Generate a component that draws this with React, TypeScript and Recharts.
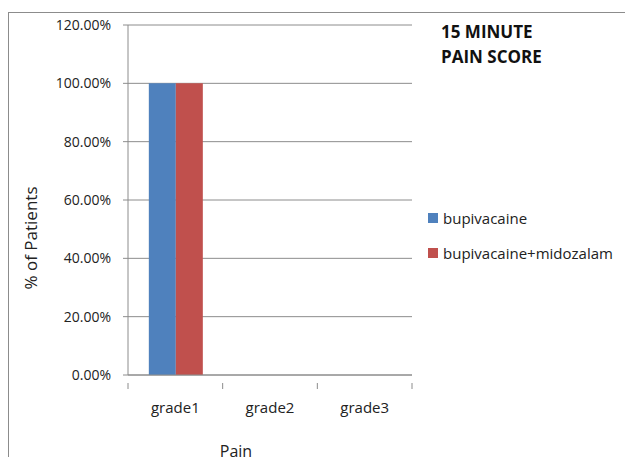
import React from 'react';
import { BarChart, Bar, XAxis, YAxis, CartesianGrid } from 'recharts';

const CATEGORIES = ['grade1', 'grade2', 'grade3'];
const BUPIVACAINE = [1, 0, 0];
const BUPI_MIDOZALAM = [1, 0, 0];
const Y_TICKS = [0, 0.2, 0.4, 0.6, 0.8, 1.0, 1.2];
const SERIES = [
  { key: 'bupivacaine', name: 'bupivacaine', color: '#4F81BD', values: BUPIVACAINE },
  { key: 'bupiMid', name: 'bupivacaine+midozalam', color: '#C0504D', values: BUPI_MIDOZALAM },
];

const data = CATEGORIES.map((c, i) => ({
  name: c,
  bupivacaine: BUPIVACAINE[i],
  bupiMid: BUPI_MIDOZALAM[i],
}));

const FONT = '"Open Sans", "Noto Sans", sans-serif';
const AXIS = '#8c8c8c';

const fmt = (v: number) => `${(v * 100).toFixed(2)}%`;

// Excel-style: tick marks sit between categories, labels at the centre
const CategoryTick = (props: any) => {
  const { x, y, payload, index } = props;
  const half = payload && payload.offset ? payload.offset : 0;
  const last = index === CATEGORIES.length - 1;
  return (
    <g>
      <line x1={x - half} x2={x - half} y1={y} y2={y + 6} stroke={AXIS} />
      {last && <line x1={x + half} x2={x + half} y1={y} y2={y + 6} stroke={AXIS} />}
      <text x={x} y={y + 30} textAnchor="middle" fontSize={15} fontFamily={FONT} fill="#222">
        {payload.value}
      </text>
    </g>
  );
};

const App: React.FC = () => {
  return (
    <div style={{ position: 'absolute', left: 0, top: 0, width: 625, height: 457, overflow: 'hidden', background: '#fff' }}>
      <div style={{ position: 'absolute', left: 8, top: 12, width: 700, height: 600, border: '1px solid #8c8c8c' }} />
      <BarChart
        width={625}
        height={457}
        data={data}
        margin={{ top: 25, right: 213, bottom: 42, left: 0 }}
        barCategoryGap="22%"
        barGap={0}
        style={{ position: 'absolute', left: 0, top: 0 }}
      >
        <CartesianGrid vertical={false} stroke={AXIS} />
        <XAxis
          dataKey="name"
          height={40}
          axisLine={{ stroke: AXIS }}
          tickLine={false}
          tick={<CategoryTick />}
          interval={0}
        />
        <YAxis
          width={128}
          domain={[0, 1.2]}
          ticks={Y_TICKS}
          tickFormatter={fmt}
          axisLine={{ stroke: AXIS }}
          tickLine={{ stroke: AXIS }}
          tickSize={5}
          tickMargin={12}
          tick={{ fontSize: 14, fontFamily: FONT, fill: '#222' }}
        />
        {SERIES.map((s) => (
          <Bar key={s.key} dataKey={s.key} name={s.name} fill={s.color} isAnimationActive={false} />
        ))}
      </BarChart>
      <div
        style={{
          position: 'absolute',
          left: 30,
          top: 238,
          transform: 'translate(-50%, -50%) rotate(-90deg)',
          fontFamily: FONT,
          fontSize: 17,
          color: '#222',
          whiteSpace: 'nowrap',
        }}
      >
        % of Patients
      </div>
      <div
        style={{
          position: 'absolute',
          left: 236,
          top: 440,
          transform: 'translateX(-50%)',
          fontFamily: FONT,
          fontSize: 16,
          color: '#222',
        }}
      >
        Pain
      </div>
      <div
        style={{
          position: 'absolute',
          left: 441,
          top: 19,
          fontFamily: FONT,
          fontSize: 17,
          fontWeight: 700,
          lineHeight: '25px',
          color: '#111',
        }}
      >
        15 MINUTE
        <br />
        PAIN SCORE
      </div>
      <div style={{ position: 'absolute', left: 428, top: 205, fontFamily: FONT, fontSize: 15, color: '#222' }}>
        {SERIES.map((s) => (
          <div key={s.key} style={{ display: 'flex', alignItems: 'center', height: 25, marginBottom: 10 }}>
            <span style={{ display: 'inline-block', width: 10, height: 10, background: s.color, marginRight: 5 }} />
            {s.name}
          </div>
        ))}
      </div>
    </div>
  );
};

export default App;
